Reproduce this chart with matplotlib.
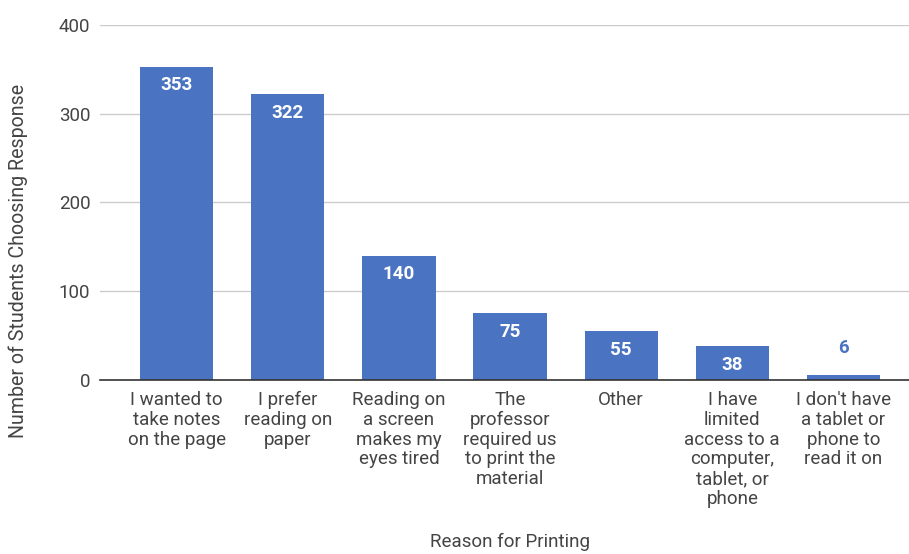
import matplotlib
matplotlib.use("Agg")
import matplotlib.pyplot as plt

plt.rcParams['font.family'] = ['Roboto', 'DejaVu Sans']

# data
reasons = [
    "I wanted to\ntake notes\non the page",
    "I prefer\nreading on\npaper",
    "Reading on\na screen\nmakes my\neyes tired",
    "The\nprofessor\nrequired us\nto print the\nmaterial",
    "Other",
    "I have\nlimited\naccess to a\ncomputer,\ntablet, or\nphone",
    "I don't have\na tablet or\nphone to\nread it on",
]
counts = [353, 322, 140, 75, 55, 38, 6]
yticks = [0, 100, 200, 300, 400]

bar_color = '#4a74c2'
text_color = '#444444'
fs = 13.5

fig = plt.figure(figsize=(9.09, 5.54), dpi=100)
ax = fig.add_axes([0.110, 0.314, 0.890, 0.641])

x = range(len(counts))
bars = ax.bar(x, counts, width=0.66, color=bar_color, zorder=2)

# value labels: white inside the bar, blue above it for short bars
for b, v in zip(bars, counts):
    cx = b.get_x() + b.get_width() / 2
    if v > 20:
        ax.annotate(str(v), (cx, v), xytext=(0, -7), textcoords='offset points',
                    ha='center', va='top', color='white', fontsize=13.5,
                    fontweight='bold')
    else:
        ax.annotate(str(v), (cx, v), xytext=(0, 13), textcoords='offset points',
                    ha='center', va='bottom', color=bar_color, fontsize=13.5,
                    fontweight='bold')

ax.set_xlim(-0.69, 6.59)
ax.set_ylim(0, 400)
ax.set_yticks(yticks)
ax.set_yticklabels([str(t) for t in yticks], color=text_color, fontsize=fs)
ax.set_xticks(list(x))
ax.set_xticklabels(reasons, color=text_color, fontsize=fs, linespacing=1.12,
                   va='top')
ax.tick_params(axis='both', length=0)
ax.tick_params(axis='y', pad=7)
ax.tick_params(axis='x', pad=8)

ax.yaxis.grid(True, color='#cccccc', linewidth=1.0, zorder=0)
for s in ['top', 'right', 'left']:
    ax.spines[s].set_visible(False)
ax.spines['bottom'].set_color('#333333')
ax.spines['bottom'].set_linewidth(1.2)
ax.spines['bottom'].set_zorder(3)

fig.text(0.0198, 0.529, 'Number of Students Choosing Response', color=text_color,
         fontsize=14.1, rotation=90, ha='center', va='center')
fig.text(0.561, 0.005, 'Reason for Printing', color=text_color, fontsize=fs,
         ha='center', va='bottom')

fig.savefig('out.png', dpi=100)
